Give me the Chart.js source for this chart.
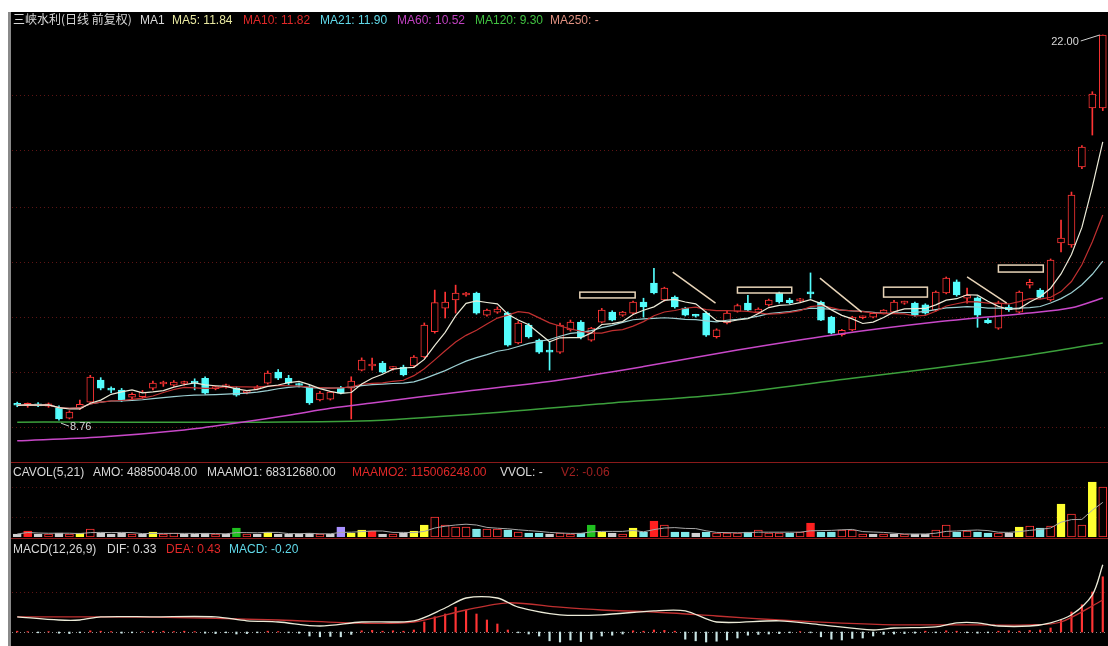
<!DOCTYPE html>
<html>
<head>
<meta charset="utf-8">
<script src="https://cdn.jsdelivr.net/npm/chart.js@4.4.1/dist/chart.umd.min.js"></script>
<style>
body{margin:0;background:#fff;width:1108px;height:646px;overflow:hidden;position:relative;font-family:"Liberation Sans",Arial,sans-serif;}
#frame{position:absolute;left:8px;top:12px;width:1100px;height:634px;background:#000;border-left:3px solid #8a8a8a;box-sizing:border-box;}
canvas{position:absolute;}
.hd{position:absolute;font-size:12px;line-height:14px;white-space:nowrap;color:#d8d8d8;}
.cjk{font-family:"Noto Sans CJK SC","Liberation Sans",sans-serif;}
.sep{position:absolute;left:11px;width:1097px;height:1px;background:#8a1a1a;}
</style>
</head>
<body>
<div id="frame"></div>
<canvas id="price" width="1096" height="450" style="left:12px;top:12px"></canvas>
<canvas id="vol" width="1096" height="72" style="left:12px;top:465px"></canvas>
<canvas id="macd" width="1096" height="106" style="left:12px;top:540px"></canvas>
<div class="sep" style="top:462px"></div>
<div class="sep" style="top:538px"></div>

<div class="hd cjk" style="left:13px;top:12px">三峡水利(日线 前复权)</div>
<div class="hd" style="left:140px;top:13px">MA1</div>
<div class="hd" style="left:172px;top:13px;color:#e8e8a0">MA5: 11.84</div>
<div class="hd" style="left:243px;top:13px;color:#e02828">MA10: 11.82</div>
<div class="hd" style="left:320px;top:13px;color:#60d8e8">MA21: 11.90</div>
<div class="hd" style="left:397px;top:13px;color:#c040c0">MA60: 10.52</div>
<div class="hd" style="left:475px;top:13px;color:#40c040">MA120: 9.30</div>
<div class="hd" style="left:550px;top:13px;color:#e09080">MA250: -</div>

<div class="hd" style="left:13px;top:465px">CAVOL(5,21)</div>
<div class="hd" style="left:93px;top:465px">AMO: 48850048.00</div>
<div class="hd" style="left:207px;top:465px">MAAMO1: 68312680.00</div>
<div class="hd" style="left:352px;top:465px;color:#e02828">MAAMO2: 115006248.00</div>
<div class="hd" style="left:500px;top:465px">VVOL: -</div>
<div class="hd" style="left:561px;top:465px;color:#a02020">V2: -0.06</div>

<div class="hd" style="left:13px;top:542px">MACD(12,26,9)</div>
<div class="hd" style="left:107px;top:542px">DIF: 0.33</div>
<div class="hd" style="left:166px;top:542px;color:#e02828">DEA: 0.43</div>
<div class="hd" style="left:229px;top:542px;color:#60d8e8">MACD: -0.20</div>

<script>
// daily candles
const opens  = [9.30,9.27,9.30,9.24,9.17,8.83,9.17,9.38,10.14,9.80,9.79,9.55,9.57,9.86,10.00,9.96,10.02,10.04,10.20,9.84,9.90,9.86,9.70,9.83,10.03,10.41,10.20,9.97,9.90,9.45,9.48,9.86,9.86,10.48,10.62,10.72,10.53,10.58,10.62,10.93,11.80,12.61,12.89,13.06,13.13,12.37,12.47,12.44,11.41,12.03,11.51,11.14,11.10,11.86,12.13,11.51,12.13,12.47,12.37,12.44,12.82,13.47,12.89,12.99,12.61,12.35,12.44,11.63,12.10,12.50,12.78,12.47,12.72,13.13,12.89,12.86,13.13,12.82,12.30,11.70,11.86,12.28,12.30,12.44,12.47,12.78,12.78,12.72,12.54,13.13,13.51,12.95,12.96,12.20,11.92,12.65,12.47,13.40,13.23,12.89,14.85,14.78,17.46,19.49,19.49];
const highs  = [9.38,9.35,9.36,9.35,9.25,9.08,9.45,10.30,10.22,9.90,9.85,9.70,9.78,10.10,10.10,10.12,10.10,10.18,10.25,9.92,10.00,9.90,9.78,9.95,10.45,10.50,10.30,10.03,9.95,9.75,9.75,9.92,10.25,10.90,10.89,10.78,10.60,10.65,10.98,12.10,13.23,13.16,13.40,13.15,13.16,12.58,12.65,12.48,12.15,12.08,11.55,11.44,12.10,12.20,12.18,11.95,12.60,12.52,12.50,12.85,12.95,13.98,13.33,13.03,12.64,12.40,12.48,11.90,12.50,12.75,13.05,12.62,12.92,13.16,12.95,12.95,13.82,12.85,12.33,11.88,12.33,12.34,12.45,12.56,12.88,12.85,12.82,12.76,13.20,13.68,13.58,13.30,13.00,12.25,12.85,12.72,13.20,13.60,13.28,14.30,15.64,16.60,18.20,20.05,22.00];
const lows   = [9.22,9.20,9.22,9.20,8.76,8.80,9.12,9.35,9.80,9.70,9.40,9.50,9.52,9.80,9.92,9.92,9.96,9.80,9.65,9.80,9.86,9.58,9.66,9.80,10.00,10.15,9.98,9.90,9.30,9.42,9.45,9.66,8.80,10.45,10.48,10.38,10.48,10.28,10.58,10.90,11.75,12.27,12.44,13.02,12.40,12.33,12.43,11.30,11.38,11.58,11.05,10.48,11.05,11.82,11.55,11.47,12.10,12.17,12.33,12.40,12.30,13.10,12.85,12.61,12.34,12.30,11.64,11.58,12.07,12.47,12.50,12.43,12.68,12.78,12.75,12.82,12.95,12.18,11.72,11.65,11.83,12.24,12.27,12.41,12.44,12.74,12.33,12.40,12.50,13.10,13.02,12.78,11.95,12.08,11.88,12.50,12.44,13.30,12.95,12.85,14.54,14.70,17.40,18.56,19.40];
const closes = [9.27,9.30,9.25,9.32,8.80,9.04,9.30,10.24,9.86,9.79,9.45,9.65,9.72,10.03,10.01,10.07,10.05,10.03,9.69,9.87,9.96,9.62,9.73,9.90,10.38,10.20,10.03,9.95,9.35,9.69,9.72,9.69,10.10,10.82,10.66,10.41,10.56,10.31,10.93,12.03,12.80,12.82,13.13,13.09,12.44,12.54,12.58,11.34,12.10,11.62,11.10,11.10,12.03,12.13,11.61,11.92,12.54,12.20,12.47,12.82,12.65,13.13,13.30,12.65,12.37,12.33,11.68,11.86,12.44,12.70,12.54,12.58,12.89,12.82,12.80,12.90,13.10,12.20,11.75,11.85,12.30,12.31,12.43,12.54,12.82,12.82,12.37,12.44,13.16,13.64,13.06,13.05,12.37,12.10,12.78,12.56,13.16,13.50,12.99,14.26,15.02,16.50,18.15,19.97,22.00];

// longer averages start before the window, so they are read as points
const ma60Pts  = [[0,8.05],[8,8.18],[16,8.42],[21,8.66],[26,8.93],[30,9.17],[34,9.35],[43,9.75],[52,10.14],[60,10.6],[69,11.17],[78,11.68],[88,12.13],[97,12.44],[101,12.62],[104,12.96]];
const ma120Pts = [[0,8.69],[32,8.72],[45,9.0],[57,9.35],[67,9.62],[80,10.2],[88,10.55],[97,11.0],[104,11.41]];

// CAVOL bars (万股) and their colour kind
const volumes  = [30,60,30,30,40,30,40,80,40,30,40,30,30,50,30,40,30,30,40,30,30,90,30,30,50,30,30,30,40,30,30,100,40,70,60,30,30,40,60,120,200,120,100,100,80,80,80,70,50,40,40,30,40,30,40,120,50,40,30,90,50,160,120,50,50,40,50,40,40,40,50,70,40,40,40,50,140,50,50,70,70,30,30,30,30,30,30,30,70,120,50,60,50,40,40,40,100,110,90,110,330,230,120,550,500];
const volKinds = ['w','R','w','r','w','r','y','r','w','w','w','r','w','y','r','r','w','w','w','r','w','g','r','w','y','w','w','w','w','r','w','p','y','y','R','w','r','w','y','y','r','r','r','r','c','r','r','c','r','c','c','w','r','r','c','g','y','w','r','y','c','R','r','c','c','w','c','r','r','r','c','r','r','r','c','r','R','c','c','r','r','r','w','r','w','r','w','w','r','r','c','r','c','c','r','w','y','r','c','r','y','r','r','y','r'];

// MACD
const macdHist = [0.02,0.01,-0.02,0.01,-0.03,-0.04,-0.02,0.03,0.02,0.01,-0.03,-0.02,0.01,0.02,0.02,0.01,0.02,0.01,-0.03,-0.04,-0.02,-0.05,-0.04,-0.02,0.02,0.01,-0.02,-0.03,-0.10,-0.12,-0.11,-0.12,-0.06,0.03,0.04,0.02,0.03,0.02,0.05,0.25,0.38,0.45,0.62,0.55,0.45,0.30,0.20,0.05,-0.02,-0.05,-0.10,-0.22,-0.25,-0.20,-0.24,-0.18,-0.10,-0.08,-0.05,0.03,0.02,0.05,0.04,0.02,-0.18,-0.22,-0.25,-0.23,-0.20,-0.15,-0.08,-0.06,-0.05,-0.04,-0.02,0.01,-0.02,-0.12,-0.18,-0.20,-0.16,-0.15,-0.10,-0.06,-0.05,-0.04,-0.03,0.02,-0.02,0.03,0.02,-0.02,-0.03,-0.02,0.02,0.03,0.02,0.04,0.05,0.10,0.30,0.50,0.68,1.00,1.38];
const difPts = [[0,0.38],[4,0.30],[6,0.30],[8,0.38],[13,0.38],[19,0.38],[22,0.28],[25,0.25],[29,0.15],[33,0.25],[38,0.28],[41,0.60],[43,0.85],[46,0.85],[48,0.62],[52,0.43],[56,0.43],[61,0.53],[64,0.53],[67,0.25],[73,0.28],[77,0.18],[82,0.05],[84,0.10],[88,0.13],[90,0.23],[92,0.23],[94,0.15],[97,0.15],[99,0.23],[101,0.43],[103,0.93],[104,1.68]];
const deaPts = [[0,0.38],[13,0.37],[25,0.30],[33,0.22],[38,0.25],[43,0.55],[47,0.73],[52,0.62],[56,0.55],[61,0.50],[67,0.40],[73,0.30],[79,0.22],[84,0.18],[90,0.18],[97,0.18],[100,0.25],[104,0.80]];

// hand-drawn marks on the price panel: [fromIdx, toIdx, low, high] / [idx, price, idx, price]
const boxes   = [[53.9,59.2,12.96,13.16],[69,74.2,13.13,13.33],[83,87.2,12.99,13.33],[94,98.3,13.85,14.09]];
const slashes = [[62.8,13.85,66.9,12.78],[76.9,13.64,80.9,12.47],[91,13.68,94.8,12.78]];
const gridPrices = [19.94,18.05,16.09,14.19,12.30,10.41,8.52];

const days = closes.map((_, i) => 'D' + (i + 1));
const UP = '#ff3434', DOWN = '#54fcfc';
const isUp = days.map((_, i) => closes[i] >= opens[i]);

function sma(src, n) {
	return src.map((_, i) => {
		const part = src.slice(Math.max(0, i - n + 1), i + 1);
		return part.reduce((a, b) => a + b, 0) / part.length;
	});
}
const pts = arr => arr.map(p => ({x: days[p[0]], y: p[1]}));

const dotted = (values, color) => ({
	id: 'dotted',
	beforeDatasetsDraw(chart) {
		const {ctx, chartArea: a, scales: {y}} = chart;
		ctx.save();
		ctx.strokeStyle = color;
		ctx.lineWidth = 1;
		ctx.setLineDash([1, 3]);
		values.forEach(v => {
			const py = Math.round(y.getPixelForValue(v)) + 0.5;
			ctx.beginPath(); ctx.moveTo(a.left, py); ctx.lineTo(a.right, py); ctx.stroke();
		});
		ctx.restore();
	}
});

const priceMarks = {
	id: 'priceMarks',
	afterDatasetsDraw(chart) {
		const {ctx, scales: {x, y}} = chart;
		ctx.save();
		ctx.strokeStyle = '#e8d4b8';
		ctx.lineWidth = 1.5;
		boxes.forEach(b => {
			const x0 = x.getPixelForValue(b[0]), x1 = x.getPixelForValue(b[1]);
			const y0 = y.getPixelForValue(b[3]), y1 = y.getPixelForValue(b[2]);
			ctx.strokeRect(x0, y0, x1 - x0, y1 - y0);
		});
		slashes.forEach(s => {
			ctx.beginPath();
			ctx.moveTo(x.getPixelForValue(s[0]), y.getPixelForValue(s[1]));
			ctx.lineTo(x.getPixelForValue(s[2]), y.getPixelForValue(s[3]));
			ctx.stroke();
		});
		// max / min labels
		const hi = highs.indexOf(Math.max(...highs));
		const lo = lows.indexOf(Math.min(...lows));
		ctx.lineWidth = 1;
		ctx.strokeStyle = '#d0d0d0';
		ctx.fillStyle = '#d8d8d8';
		ctx.font = '11px "Liberation Sans", Arial, sans-serif';
		ctx.textBaseline = 'middle';
		let px = x.getPixelForValue(hi), py = y.getPixelForValue(highs[hi]);
		ctx.beginPath(); ctx.moveTo(px - 3, py); ctx.lineTo(px - 22, py + 6); ctx.stroke();
		ctx.textAlign = 'right';
		ctx.fillText(highs[hi].toFixed(2), px - 24, py + 7);
		px = x.getPixelForValue(lo); py = y.getPixelForValue(lows[lo]);
		ctx.beginPath(); ctx.moveTo(px + 2, py + 3); ctx.lineTo(px + 10, py + 6); ctx.stroke();
		ctx.textAlign = 'left';
		ctx.fillText(lows[lo].toFixed(2), px + 11, py + 7);
		ctx.restore();
	}
};

const baseOpts = (min, max) => ({
	responsive: false,
	animation: false,
	layout: {padding: 0},
	plugins: {legend: {display: false}, tooltip: {enabled: false}},
	scales: {
		x: {display: false, offset: true},
		y: {display: false, min: min, max: max}
	}
});

new Chart(document.getElementById('price'), {
	type: 'bar',
	data: {
		labels: days,
		datasets: [
			{label: 'wick', data: days.map((_, i) => [lows[i], highs[i]]),
				backgroundColor: isUp.map(u => u ? UP : DOWN), barThickness: 1, grouped: false, order: 3},
			{label: 'body', data: days.map((_, i) => [Math.min(opens[i], closes[i]), Math.max(opens[i], closes[i])]),
				backgroundColor: isUp.map(u => u ? '#000' : DOWN), borderColor: isUp.map(u => u ? UP : DOWN),
				borderWidth: 1, borderSkipped: false, barThickness: 7, minBarLength: 2, grouped: false, order: 2},
			{type: 'line', label: 'MA5', data: sma(closes, 5), borderColor: '#ecebd8', borderWidth: 1.2, pointRadius: 0, order: 1},
			{type: 'line', label: 'MA10', data: sma(closes, 10), borderColor: '#c03030', borderWidth: 1.2, pointRadius: 0, order: 1},
			{type: 'line', label: 'MA21', data: sma(closes, 21), borderColor: '#9ccfd2', borderWidth: 1.2, pointRadius: 0, order: 1},
			{type: 'line', label: 'MA60', data: pts(ma60Pts), borderColor: '#c848c8', borderWidth: 1.5, pointRadius: 0, tension: 0.3, order: 1},
			{type: 'line', label: 'MA120', data: pts(ma120Pts), borderColor: '#3ca03c', borderWidth: 1.5, pointRadius: 0, tension: 0.3, order: 1}
		]
	},
	options: baseOpts(7.32, 22.79),
	plugins: [dotted(gridPrices, '#5e1414'), priceMarks]
});

const kindFill = {w: '#d0d0d0', r: '#000', R: '#ff2020', c: '#80e8e8', y: '#ffff30', g: '#20c020', p: '#a890ff'};
const kindLine = {w: '#d0d0d0', r: '#ff3434', R: '#ff2020', c: '#80e8e8', y: '#ffff30', g: '#20c020', p: '#a890ff'};

new Chart(document.getElementById('vol'), {
	type: 'bar',
	data: {
		labels: days,
		datasets: [
			{label: 'CAVOL', data: volumes, backgroundColor: volKinds.map(k => kindFill[k]), borderColor: volKinds.map(k => kindLine[k]),
				borderWidth: 1, borderSkipped: false, barThickness: 8, order: 2},
			{type: 'line', label: 'VMA', data: sma(volumes, 5), borderColor: '#a8a8a8', borderWidth: 1, pointRadius: 0, order: 1}
		]
	},
	options: baseOpts(0, 720),
	plugins: [dotted([500, 200], '#4a1010')]
});

new Chart(document.getElementById('macd'), {
	type: 'bar',
	data: {
		labels: days,
		datasets: [
			{label: 'MACD', data: macdHist, backgroundColor: macdHist.map(v => v >= 0 ? '#ff3434' : '#c8e4e4'), barThickness: 1.5, order: 2},
			{type: 'line', label: 'DIF', data: pts(difPts), borderColor: '#ecebd8', borderWidth: 1.3, pointRadius: 0, tension: 0.3, order: 1},
			{type: 'line', label: 'DEA', data: pts(deaPts), borderColor: '#c03030', borderWidth: 1.3, pointRadius: 0, tension: 0.3, order: 1}
		]
	},
	options: baseOpts(-0.35, 2.3),
	plugins: [dotted([1.0], '#5e1414'), dotted([0], '#909090')]
});
</script>
</body>
</html>
